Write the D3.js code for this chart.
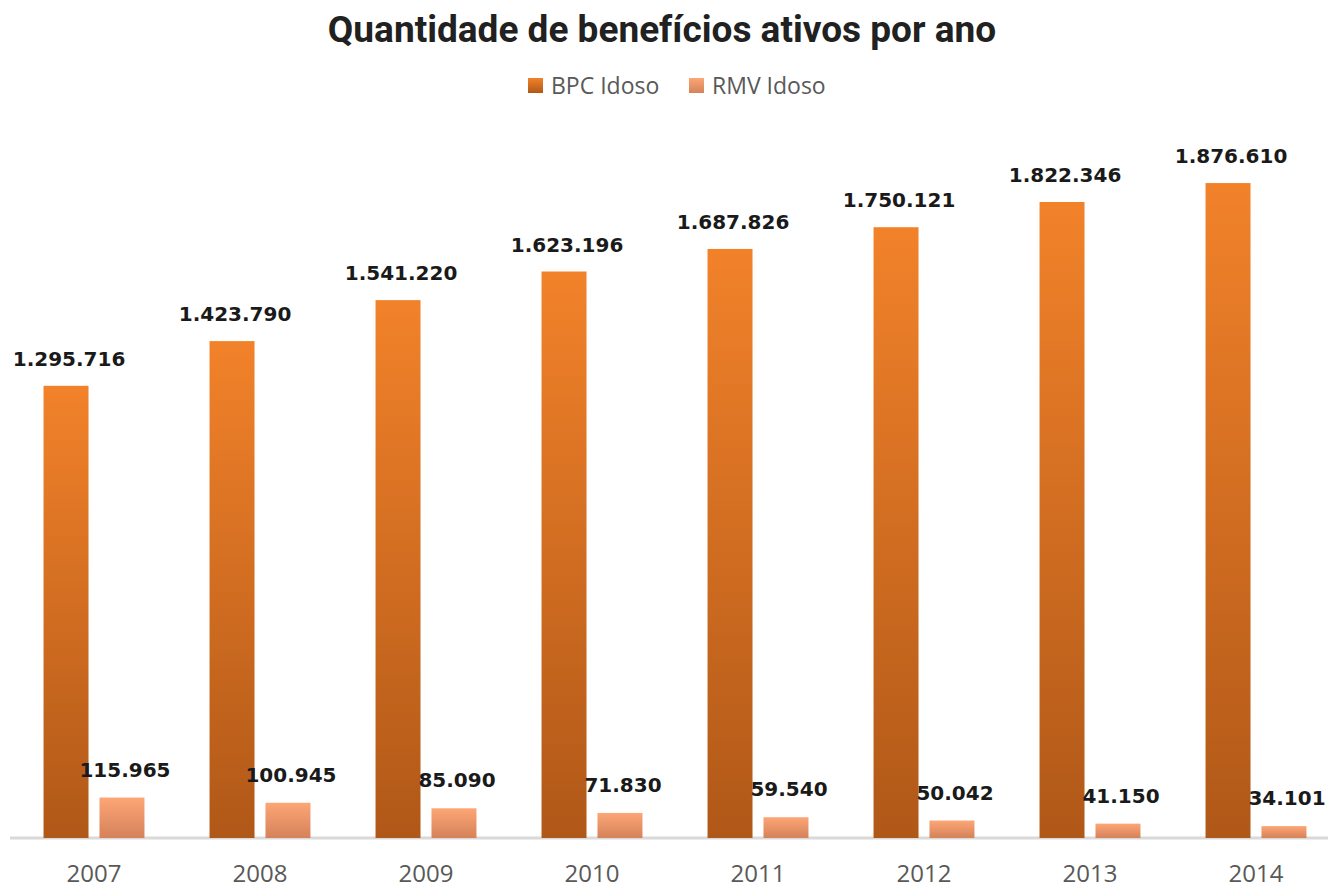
<!DOCTYPE html>
<html>
<head>
<meta charset="utf-8">
<script src="https://cdn.jsdelivr.net/npm/d3@7"></script>
<style>
  body { margin: 0; background: #fff; }
  .titulo { font-family: Roboto, sans-serif; font-weight: 700; font-size: 37px; fill: #212121; }
  .leyenda { font-family: "Open Sans", sans-serif; font-size: 23px; fill: #595959; }
  .valor { font-family: "DejaVu Sans", sans-serif; font-weight: 700; font-size: 20px; fill: #1a1a1a; }
  .eje text { font-family: "Open Sans", sans-serif; font-size: 24px; fill: #595959; }
</style>
</head>
<body>
<svg></svg>
<script>
const width = 1328;
const height = 890;

//datos
const anos = ["2007", "2008", "2009", "2010", "2011", "2012", "2013", "2014"];
const series = ["BPC Idoso", "RMV Idoso"];
const bpc = [1295716, 1423790, 1541220, 1623196, 1687826, 1750121, 1822346, 1876610];
const rmv = [115965, 100945, 85090, 71830, 59540, 50042, 41150, 34101];

const svg = d3.select("svg").attr("width", width).attr("height", height);

//gradientes
const defs = svg.append("defs");
const colores = [
  { id: "g-bpc", top: "#F2822A", bottom: "#B05818" },
  { id: "g-rmv", top: "#FDA676", bottom: "#D5825A" }
];
colores.forEach(c => {
  const g = defs.append("linearGradient").attr("id", c.id)
    .attr("x1", 0).attr("y1", 0).attr("x2", 0).attr("y2", 1);
  g.append("stop").attr("offset", "0%").attr("stop-color", c.top);
  g.append("stop").attr("offset", "100%").attr("stop-color", c.bottom);
});

//escalas
const x = d3.scaleBand().domain(anos).range([11, 1339]).paddingInner(0.392).paddingOuter(0.196);
const x1 = d3.scaleBand().domain(series).range([0, x.bandwidth()]).paddingInner(0.196);
const y = d3.scaleLinear().domain([0, 2000000]).range([838, 140]);

//titulo
svg.append("text").attr("class", "titulo")
  .attr("x", 662).attr("y", 42).attr("text-anchor", "middle")
  .text("Quantidade de benefícios ativos por ano");

//leyenda
const leg = svg.append("g").attr("transform", "translate(528,78)");
series.forEach((s, i) => {
  const gx = i * 161;
  leg.append("rect").attr("x", gx).attr("y", 0).attr("width", 15).attr("height", 15)
    .attr("fill", `url(#${colores[i].id})`);
  leg.append("text").attr("class", "leyenda").attr("x", gx + 23).attr("y", 16).text(s);
});

//eje x
const eje = svg.append("g").attr("class", "eje")
  .attr("transform", "translate(0,838)")
  .call(d3.axisBottom(x).tickSize(0).tickPadding(27));
eje.select(".domain").attr("stroke", "#d9d9d9").attr("stroke-width", 3)
  .attr("d", "M10,0H1328");

//barras
const datos = [bpc, rmv];
datos.forEach((vals, i) => {
  const s = series[i];
  svg.append("g").selectAll("rect").data(vals).join("rect")
    .attr("x", (d, j) => x(anos[j]) + x1(s))
    .attr("y", d => y(d))
    .attr("width", x1.bandwidth())
    .attr("height", d => y(0) - y(d))
    .attr("fill", `url(#${colores[i].id})`);

  svg.append("g").selectAll("text").data(vals).join("text")
    .attr("class", "valor")
    .attr("x", (d, j) => x(anos[j]) + x1(s) + x1.bandwidth() / 2 + 3)
    .attr("y", d => y(d) - (i === 0 ? 20 : 21))
    .attr("text-anchor", "middle")
    .text(d => d3.format(",")(d).replace(/,/g, "."));
});
</script>
</body>
</html>
